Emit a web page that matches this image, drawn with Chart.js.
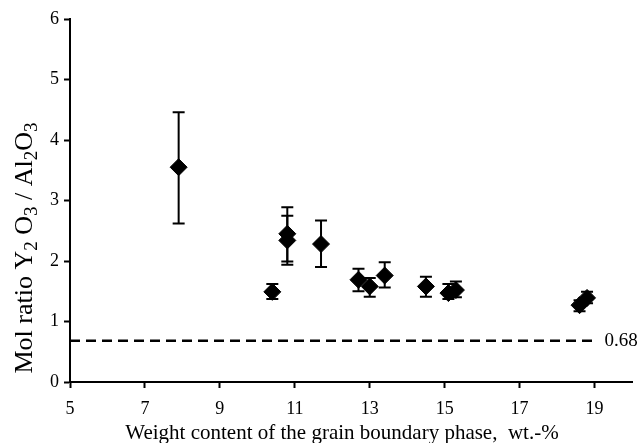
<!DOCTYPE html>
<html>
<head>
<meta charset="utf-8">
<script src="https://cdn.jsdelivr.net/npm/chart.js@4.4.0/dist/chart.umd.min.js"></script>
<style>
  html, body { margin: 0; padding: 0; background: #fff; }
</style>
</head>
<body>
<canvas id="ratio-chart" width="644" height="443"></canvas>
<script>
// Grain boundary phase content (wt.-%) vs. Y2O3/Al2O3 mol ratio, with min/max bars
const weightContent = [7.9, 10.4, 10.8, 10.8, 11.7, 12.7, 13.0, 13.4, 14.5, 15.1, 15.3, 18.6, 18.8];
const molRatio      = [3.55, 1.49, 2.45, 2.34, 2.28, 1.69, 1.58, 1.76, 1.58, 1.47, 1.52, 1.27, 1.39];
const ratioHigh     = [4.46, 1.62, 2.89, 2.75, 2.67, 1.87, 1.72, 1.98, 1.74, 1.62, 1.66, 1.35, 1.49];
const ratioLow      = [2.62, 1.37, 1.99, 1.94, 1.90, 1.50, 1.41, 1.56, 1.41, 1.37, 1.40, 1.17, 1.30];

const xTicks = [5, 7, 9, 11, 13, 15, 17, 19];
const yTicks = [0, 1, 2, 3, 4, 5, 6];

// stoichiometric reference line
const referenceRatio = 0.68;
const referenceSpan = [5, 19];

const FONT = "'Liberation Serif', 'Times New Roman', serif";

// Error bars drawn under the diamonds
const errorBars = {
    id: "errorBars",
    beforeDatasetsDraw(chart) {
        const { ctx, scales: { x, y } } = chart;
        ctx.save();
        ctx.strokeStyle = "#000";
        ctx.lineWidth = 2;
        weightContent.forEach((w, i) => {
            const px = x.getPixelForValue(w);
            const top = y.getPixelForValue(ratioHigh[i]);
            const bot = y.getPixelForValue(ratioLow[i]);
            ctx.beginPath();
            ctx.moveTo(px, top); ctx.lineTo(px, bot);
            ctx.moveTo(px - 6, top); ctx.lineTo(px + 6, top);
            ctx.moveTo(px - 6, bot); ctx.lineTo(px + 6, bot);
            ctx.stroke();
        });
        ctx.restore();
    }
};

// Axis titles (with subscripts) and the label of the reference line
const annotations = {
    id: "annotations",
    afterDraw(chart) {
        const { ctx, scales: { x, y } } = chart;
        ctx.save();
        ctx.fillStyle = "#000";

        // reference value label
        ctx.font = "19px " + FONT;
        ctx.textBaseline = "middle";
        ctx.textAlign = "left";
        ctx.fillText(String(referenceRatio), x.getPixelForValue(referenceSpan[1]) + 10, y.getPixelForValue(referenceRatio));

        // x title
        ctx.font = "21px " + FONT;
        ctx.textBaseline = "alphabetic";
        ctx.textAlign = "center";
        ctx.fillText("Weight content of the grain boundary phase,  wt.-%", 342, 439);

        // y title, rotated, with subscripts
        const parts = [["Mol ratio Y", 0], ["2", 1], [" O", 0], ["3", 1], [" / Al", 0], ["2", 1], ["O", 0], ["3", 1]];
        const big = "26px " + FONT, small = "19px " + FONT;
        let total = 0;
        parts.forEach(([t, sub]) => { ctx.font = sub ? small : big; total += ctx.measureText(t).width; });
        ctx.translate(32, 248);
        ctx.rotate(-Math.PI / 2);
        ctx.textAlign = "left";
        let pos = -total / 2;
        parts.forEach(([t, sub]) => {
            ctx.font = sub ? small : big;
            ctx.fillText(t, pos, sub ? 5 : 0);
            pos += ctx.measureText(t).width;
        });
        ctx.restore();
    }
};

new Chart(document.getElementById("ratio-chart").getContext("2d"), {
    type: "scatter",
    data: {
        datasets: [
            {
                data: weightContent.map((w, i) => ({ x: w, y: molRatio[i] })),
                pointStyle: "rectRot",
                pointRadius: 8.5,
                backgroundColor: "#000",
                borderColor: "#000",
                borderWidth: 1
            },
            {
                type: "line",
                data: referenceSpan.map(v => ({ x: v, y: referenceRatio })),
                borderColor: "#000",
                borderWidth: 2.5,
                borderDash: [10, 6],
                pointRadius: 0
            }
        ]
    },
    options: {
        responsive: false,
        animation: false,
        devicePixelRatio: 1,
        layout: { padding: { top: 19, right: 12, left: 0, bottom: 0 } },
        plugins: {
            legend: { display: false },
            tooltip: { enabled: false }
        },
        scales: {
            x: {
                type: "linear",
                min: 5,
                max: 20,
                afterBuildTicks: s => { s.ticks = xTicks.map(v => ({ value: v })); },
                afterFit: s => { s.height = 61; },
                border: { color: "#000", width: 2 },
                grid: { drawOnChartArea: false, color: "#000", tickLength: 6, tickWidth: 2 },
                ticks: { color: "#000", padding: 10, font: { family: FONT, size: 18 } }
            },
            y: {
                type: "linear",
                min: 0,
                max: 6,
                afterBuildTicks: s => { s.ticks = yTicks.map(v => ({ value: v })); },
                afterFit: s => { s.width = 70; },
                border: { color: "#000", width: 2 },
                grid: { drawOnChartArea: false, color: "#000", tickLength: 6, tickWidth: 2 },
                ticks: { color: "#000", padding: 5, font: { family: FONT, size: 18 } }
            }
        }
    },
    plugins: [errorBars, annotations]
});
</script>
</body>
</html>
